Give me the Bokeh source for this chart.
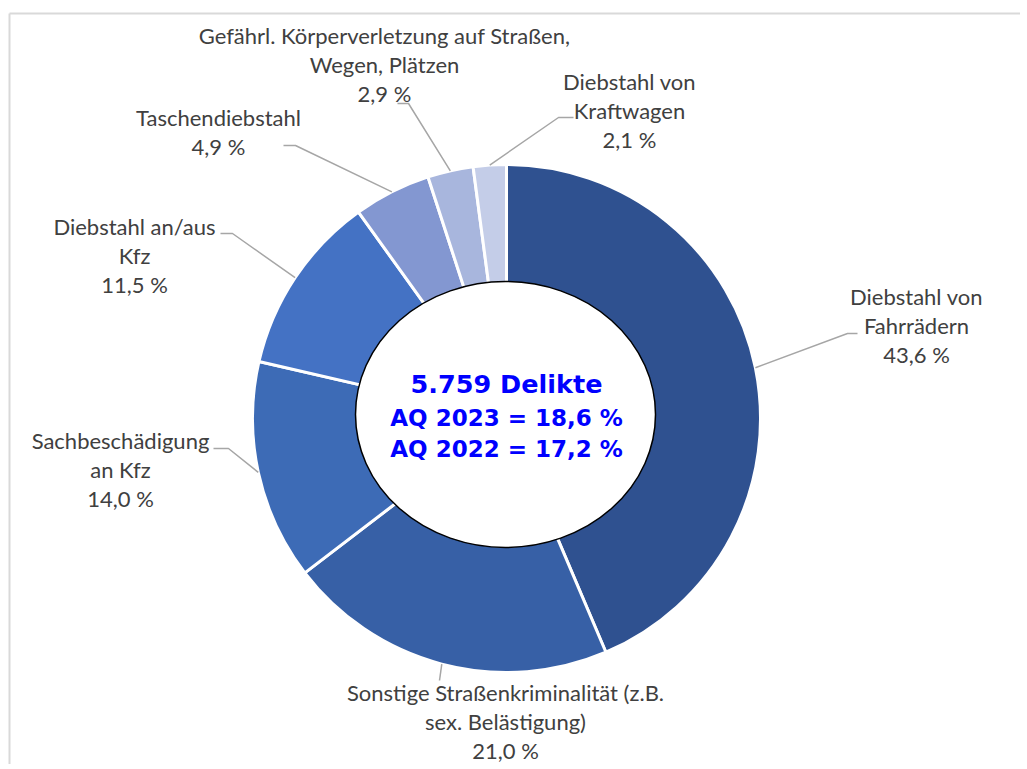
import numpy as np
from bokeh.plotting import figure
from bokeh.models import Range1d
from bokeh.embed import file_html
from bokeh.resources import INLINE
from bokeh.core.properties import value

# ---------------- data ----------------
categories = [
    "Diebstahl von Fahrrädern",
    "Sonstige Straßenkriminalität (z.B. sex. Belästigung)",
    "Sachbeschädigung an Kfz",
    "Diebstahl an/aus Kfz",
    "Taschendiebstahl",
    "Gefährl. Körperverletzung auf Straßen, Wegen, Plätzen",
    "Diebstahl von Kraftwagen",
]
label_lines = [
    ["Diebstahl von", "Fahrrädern"],
    ["Sonstige Straßenkriminalität (z.B.", "sex. Belästigung)"],
    ["Sachbeschädigung", "an Kfz"],
    ["Diebstahl an/aus", "Kfz"],
    ["Taschendiebstahl"],
    ["Gefährl. Körperverletzung auf Straßen,", "Wegen, Plätzen"],
    ["Diebstahl von", "Kraftwagen"],
]
shares = [43.6, 21.0, 14.0, 11.5, 4.9, 2.9, 2.1]
center_lines = ["5.759 Delikte", "AQ 2023 = 18,6 %", "AQ 2022 = 17,2 %"]

# ---------------- styles / layout ----------------
colors = ["#2F5190", "#3760A6", "#3D6BB6", "#4472C4", "#8397D1", "#A8B6DD", "#C4CDE8"]
W, H = 1020, 764
OFF = 0  # page offset of the canvas (screen px)
TEXT_DY = -8.5  # correction for rendered text baseline
def sx(X): return X - OFF
def sy(Y): return H + OFF - Y

CX, CY = 506, 418          # pie centre (screen px)
R_OUT, R_IN = 254, 120
ELL_W, ELL_H, ELL_CY = 300, 266, 414

# label layout (screen px): centre x, first baseline y, elbow point, leader end
lab_x = [916, 505, 120, 134, 218, 384, 629]
lab_y0 = [304, 700, 448, 234, 125, 43, 89]
elbow = [(847, 333), (439, 680), (228, 448), (232, 233), (295, 145), (408, 103), (558, 117)]
lend = [(857, 333), (439, 680), (213, 448), (220, 233), (283, 145), (397, 103), (573, 117)]
LINE_H = 29.3
LABEL_FONT = "Lato"
LABEL_SIZE = "22px"

p = figure(width=W, height=H, output_backend="svg", toolbar_location=None,
           x_range=Range1d(0, W), y_range=Range1d(0, H),
           x_axis_type=None, y_axis_type=None, min_border=0)
p.outline_line_color = None
p.xgrid.visible = False
p.ygrid.visible = False

# chart area frame (top + left visible)
p.line([sx(9), sx(1100)], [sy(13), sy(13)], line_color="#D9D9D9", line_width=2)
p.line([sx(9), sx(9)], [sy(13), sy(800)], line_color="#D9D9D9", line_width=2)

vals = np.array(shares)
cum = np.concatenate([[0], np.cumsum(vals)]) / vals.sum()
starts = np.pi / 2 - 2 * np.pi * cum[:-1]
ends = np.pi / 2 - 2 * np.pi * cum[1:]
mids = (starts + ends) / 2

p.annular_wedge(x=sx(CX), y=sy(CY), inner_radius=R_IN, outer_radius=R_OUT,
                start_angle=starts, end_angle=ends, direction="clock",
                fill_color=colors, line_color="white", line_width=3)

p.ellipse(x=sx(CX) - 1, y=sy(ELL_CY), width=ELL_W, height=ELL_H,
          fill_color="white", line_color="black", line_width=1.5)

# leader lines
for i, m in enumerate(mids):
    ax = sx(CX) + R_OUT * np.cos(m)
    ay = sy(CY) + R_OUT * np.sin(m)
    ex, ey = elbow[i]
    lx, ly = lend[i]
    p.line([ax, sx(ex), sx(lx)], [ay, sy(ey), sy(ly)], line_color="#A6A6A6", line_width=1.5)

# labels
for i, lines in enumerate(label_lines):
    txt = list(lines) + [f"{shares[i]:.1f} %".replace(".", ",")]
    for k, t in enumerate(txt):
        p.text(x=[sx(lab_x[i])], y=[sy(lab_y0[i] + k * LINE_H + TEXT_DY)], text=[t],
               text_align="center", text_baseline="alphabetic",
               text_font=value(LABEL_FONT), text_font_size=LABEL_SIZE,
               text_color="#404040")

# centre text
c_y = [392, 426, 457]
c_size = ["25.5px", "23px", "23px"]
for k, t in enumerate(center_lines):
    p.text(x=[sx(506)], y=[sy(c_y[k] + TEXT_DY)], text=[t], text_align="center",
           text_baseline="alphabetic", text_font=value("DejaVu Sans"),
           text_font_style="bold", text_font_size=c_size[k], text_color="#0000FF")

open("out.html", "w").write(file_html(p, INLINE))
